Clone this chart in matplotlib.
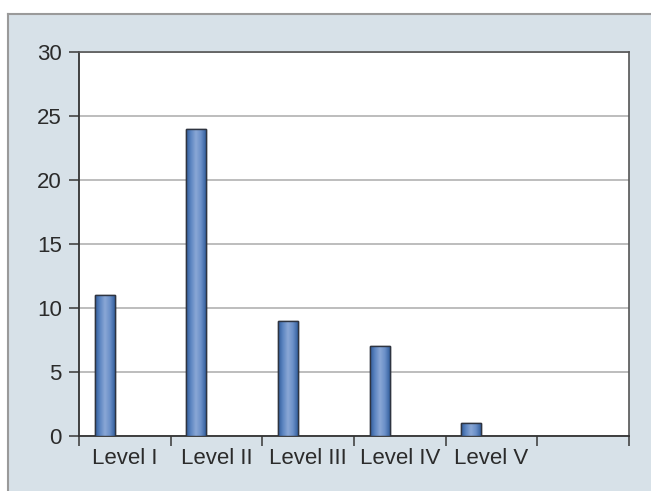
import numpy as np
import matplotlib.pyplot as plt
from matplotlib.patches import Rectangle
from matplotlib.lines import Line2D
from matplotlib.colors import LinearSegmentedColormap

plt.rcParams['font.family'] = ['Liberation Sans', 'DejaVu Sans']

categories = ['Level I', 'Level II', 'Level III', 'Level IV', 'Level V']
counts = [11, 24, 9, 7, 1]
y_ticks = [0, 5, 10, 15, 20, 25, 30]
n_slots = 6

W, H = 651, 491
fig = plt.figure(figsize=(W / 100, H / 100), dpi=100)
fig.patch.set_facecolor('white')

# framed panel behind the chart (border on top and left only)
px, py = 8 / W, 1 - 14 / H
fig.patches.append(Rectangle((px, 0), 1 - px, py, transform=fig.transFigure,
                             facecolor='#d7e1e8', edgecolor='none', zorder=0))
fig.lines.append(Line2D([px, 1], [py, py], transform=fig.transFigure,
                        color='#9a9a9a', linewidth=1.5, zorder=0.5))
fig.lines.append(Line2D([px, px], [0, py], transform=fig.transFigure,
                        color='#9a9a9a', linewidth=1.5, zorder=0.5))

ax = fig.add_axes([79 / W, 1 - 436 / H, (629 - 79) / W, (436 - 52) / H])
ax.set_facecolor('white')
ax.set_zorder(1)

x = np.arange(len(categories))
bar_w = 0.215
offset = -0.5 + 0.28
bars = ax.bar(x + offset, counts, width=bar_w, color='#4a72b0',
              edgecolor='#2e3440', linewidth=1.0, zorder=3)

# horizontal shading across each bar
shade = LinearSegmentedColormap.from_list(
    'shade', ['#2f5a98', '#5d86c2', '#8aa7d6', '#6b90c8', '#34609f'])
grad = np.linspace(0, 1, 256).reshape(1, -1)
for b in bars:
    x0, w, h = b.get_x(), b.get_width(), b.get_height()
    im = ax.imshow(grad, cmap=shade, aspect='auto', extent=(x0, x0 + w, 0, h),
                   zorder=3, interpolation='bilinear')
    im.set_clip_path(b)
    ax.add_patch(Rectangle((x0, 0), w, h, fill=False, edgecolor='#2e3440',
                           linewidth=1.0, zorder=4))

ax.set_xlim(-0.5, n_slots - 0.5)
ax.set_ylim(0, 30)
ax.set_yticks(y_ticks)
ax.set_yticklabels([str(v) for v in y_ticks])
ax.yaxis.grid(True, color='#bdbdbd', linewidth=1.4, zorder=1)
ax.set_axisbelow(True)

# slot boundaries as ticks, labels centred in each slot
ax.set_xticks(np.arange(n_slots + 1) - 0.5)
ax.set_xticklabels([])
ax.set_xticks(x, minor=True)
ax.set_xticklabels(categories, minor=True)
ax.tick_params(axis='x', which='major', direction='out', length=7.5, width=1.2, color='#444444')
ax.tick_params(axis='x', which='minor', length=0, pad=9, labelsize=16, labelcolor='#2b2b2b')
ax.tick_params(axis='y', direction='out', length=7.5, width=1.2, color='#444444',
               labelsize=16, labelcolor='#2b2b2b', pad=5)

for s in ['left', 'bottom']:
    ax.spines[s].set_color('#333333')
    ax.spines[s].set_linewidth(1.3)
for s in ['top', 'right']:
    ax.spines[s].set_color('#555555')
    ax.spines[s].set_linewidth(1.2)

fig.savefig('out.png', dpi=100)
